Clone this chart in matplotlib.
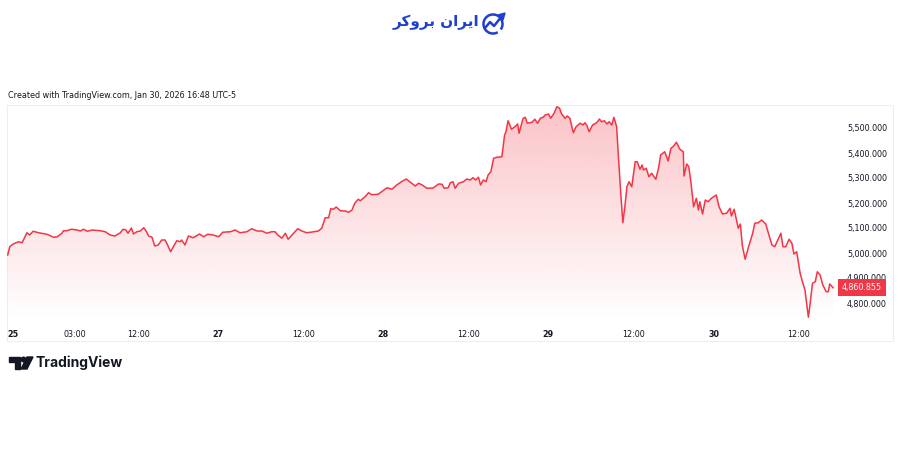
import matplotlib
matplotlib.use("Agg")
import matplotlib.pyplot as plt
import matplotlib.transforms as mtransforms
from matplotlib.patches import Rectangle, Arc, Polygon, Circle
import numpy as np

# price (time axis in compressed session hours)
t_hours = [-0.8, -0.5, 0.0, 0.8, 1.3, 2.0, 2.4, 2.9, 3.7, 4.9, 5.9, 6.4, 7.1, 7.3, 7.8, 8.5, 9.3, 9.8, 10.2, 10.8,
           11.5, 12.7, 13.4, 14.1, 14.8, 15.6, 16.0, 16.4, 16.7, 17.2, 17.5, 18.0, 18.5, 19.0, 19.4, 19.7, 20.2, 20.6, 21.1, 21.6,
           22.1, 22.4, 22.9, 23.3, 23.8, 24.3, 24.5, 25.0, 25.5, 26.2, 27.1, 27.7, 28.3, 29.1, 29.9, 30.5, 31.6, 32.3, 33.0, 34.0,
           34.7, 35.5, 36.2, 36.9, 37.6, 38.1, 38.5, 39.1, 39.6, 40.0, 40.8, 41.4, 42.0, 42.7, 43.5, 44.4, 44.9, 45.4, 45.9, 46.2,
           46.6, 47.0, 47.6, 48.3, 48.8, 49.3, 49.7, 50.2, 50.5, 51.2, 51.7, 52.2, 53.1, 54.4, 55.1, 55.8, 56.5, 57.2, 57.7, 58.5,
           59.0, 59.5, 60.2, 61.1, 61.9, 62.4, 62.7, 63.3,
           63.6, 64.0, 64.3, 64.8, 65.5, 66.0, 66.5, 66.9, 67.3, 67.7, 68.0, 68.4, 68.8, 69.1, 69.5, 69.9, 70.4, 71.1, 71.5, 71.7,
           72.0, 72.5, 73.0, 73.4, 73.6, 74.2, 74.5, 74.8, 75.5, 75.9, 76.3, 76.7, 77.1, 77.4, 77.9, 78.2, 78.7, 79.1, 79.5, 79.8,
           80.3, 80.6, 81.0, 81.5, 81.9, 82.5, 82.9, 83.2, 83.5, 83.8, 84.3, 84.9, 85.3, 85.6, 86.0, 86.4, 86.7, 87.1, 87.4, 87.8,
           88.0, 88.4, 88.7, 89.0, 89.3, 89.6, 90.0, 90.5, 90.8, 91.2, 91.5, 91.7, 92.1, 92.5, 92.9, 93.5, 93.9, 94.2, 94.6, 94.8,
           95.3, 95.7, 96.0, 96.5, 97.0, 97.5, 97.6, 98.0, 98.3, 98.6, 99.0, 99.4, 99.7, 99.9, 100.3, 100.7, 101.1, 101.6, 102.3, 102.7,
           103.2, 103.8, 104.3, 104.5, 104.9, 105.5, 105.8, 106.1, 106.5, 107.0, 107.6, 107.9, 108.4, 108.9, 109.5, 110.0, 110.4, 110.8, 111.3, 111.7,
           112.0, 112.4, 112.9, 113.3, 113.6, 114.0, 114.5, 114.9, 115.2, 115.7, 115.9, 116.3, 116.7, 117.0, 117.4, 117.8, 118.3, 118.6, 118.8, 119.3]

price = [4992, 5025, 5036, 5045, 5041, 5081, 5072, 5087, 5081, 5075, 5063, 5065, 5079, 5089, 5089, 5095, 5092, 5088, 5095, 5087,
         5092, 5089, 5085, 5072, 5068, 5081, 5095, 5092, 5079, 5100, 5076, 5085, 5088, 5101, 5085, 5068, 5063, 5028, 5032, 5052,
         5052, 5036, 5005, 5025, 5049, 5045, 5052, 5032, 5068, 5061, 5076, 5065, 5075, 5072, 5065, 5083, 5085, 5092, 5081, 5085,
         5097, 5088, 5088, 5079, 5085, 5085, 5072, 5059, 5079, 5055, 5079, 5097, 5088, 5081, 5084, 5088, 5099, 5141, 5141, 5177,
         5175, 5184, 5169, 5168, 5163, 5172, 5199, 5215, 5209, 5225, 5241, 5233, 5235, 5261, 5255, 5272, 5285, 5296, 5285, 5268,
         5279, 5272, 5259, 5260, 5276, 5275, 5259, 5261,
         5281, 5285, 5259, 5279, 5285, 5296, 5292, 5301, 5292, 5303, 5272, 5292, 5285, 5312, 5325, 5379, 5383, 5385, 5472, 5485,
         5529, 5495, 5505, 5516, 5479, 5539, 5543, 5519, 5523, 5535, 5519, 5539, 5543, 5552, 5556, 5539, 5559, 5585, 5579, 5556,
         5539, 5548, 5539, 5481, 5505, 5519, 5512, 5521, 5508, 5485, 5512, 5521, 5536, 5525, 5529, 5516, 5525, 5512, 5543, 5505,
         5412, 5239, 5121, 5185, 5265, 5285, 5265, 5365, 5365, 5335, 5352, 5332, 5339, 5305, 5319, 5295, 5339, 5392, 5401, 5405,
         5368, 5419, 5425, 5443, 5415, 5405, 5308, 5356, 5345, 5285, 5185, 5219, 5172, 5205, 5156, 5212, 5205, 5219, 5232, 5185,
         5156, 5159, 5179, 5148, 5175, 5099, 5116, 5028, 4975, 5025, 5079, 5119, 5121, 5132, 5116, 5068, 5032, 5025, 5055, 5079,
         5025, 5025, 5055, 5039, 4996, 5005, 4919, 4879, 4852, 4743, 4785, 4879, 4885, 4925, 4912, 4872, 4845, 4845, 4876, 4860.855]

xtick_pos = [0, 9.0, 18.3, 29.8, 42.2, 53.8, 66.3, 77.8, 90.3, 101.9, 114.3]
xtick_labels = ["25", "03:00", "12:00", "27", "12:00", "28", "12:00", "29", "12:00", "30", "12:00"]
day_labels = {"25", "27", "28", "29", "30"}
ytick_vals = [4800, 4900, 5000, 5100, 5200, 5300, 5400, 5500]

RED = "#F23645"
TXT = "#131722"
BLUE = "#1f3fcf"

plt.rcParams['font.family'] = ['DejaVu Sans']

W, H = 900, 471
fig = plt.figure(figsize=(W / 100, H / 100), dpi=100)
fig.patch.set_facecolor("white")

# overlay in pixel coordinates for decorations
deco = fig.add_axes([0, 0, 1, 1], zorder=0)
deco.set_xlim(0, W)
deco.set_ylim(H, 0)
deco.axis("off")

# chart frame
deco.add_patch(Rectangle((7, 105), 886, 236, fill=False, ec="#eceef2", lw=0.8))

ax = fig.add_axes([7 / W, (H - 320) / H, (840 - 7) / W, (320 - 105) / H], zorder=1)
ax.patch.set_alpha(0)
ymin, ymax = 4732, 5592
ax.set_xlim(-0.9, 120.3)
ax.set_ylim(ymin, ymax)

# gradient fill under the line
poly = ax.fill_between(t_hours, price, ymin, color="none", lw=0)
grad = np.linspace(0, 1, 256).reshape(-1, 1)
rgba = np.zeros((256, 1, 4))
rgba[..., 0] = 242 / 255
rgba[..., 1] = 54 / 255
rgba[..., 2] = 69 / 255
rgba[..., 3] = 0.30 * grad
img = ax.imshow(rgba, extent=[-0.9, 120.3, ymin, ymax], origin="lower", aspect="auto", zorder=1)
img.set_clip_path(poly.get_paths()[0], transform=ax.transData)

ax.plot(t_hours, price, color=RED, lw=1.1, zorder=2)

for s in ax.spines.values():
    s.set_visible(False)

ax.yaxis.tick_right()
ax.set_yticks(ytick_vals)
ax.set_yticklabels(["{:,.3f}".format(v) for v in ytick_vals])
ax.tick_params(axis="y", length=0, pad=5, labelsize=5.8, labelcolor=TXT)
ax.set_xticks(xtick_pos)
ax.set_xticklabels(xtick_labels)
ax.tick_params(axis="x", length=0, pad=7, labelsize=5.8, labelcolor=TXT)
for lab in ax.get_xticklabels():
    if lab.get_text() in day_labels:
        lab.set_fontweight("bold")

# last price tag
trans = mtransforms.blended_transform_factory(ax.transAxes, ax.transData)
ax.annotate("{:,.3f}".format(price[-1]), xy=(1.0, price[-1]), xycoords=trans,
            xytext=(1.5, 0), textcoords="offset points", va="center", ha="left",
            fontsize=5.8, color="white", annotation_clip=False,
            bbox=dict(boxstyle="square,pad=0.5", fc=RED, ec="none"))

# header / footer text
fig.text(8 / W, 1 - 96 / H, "Created with TradingView.com, Jan 30, 2026 16:48 UTC-5",
         fontsize=5.75, color=TXT, va="center", ha="left")

# IranBroker logo (presentation forms, visual order)
logo = "\uFEAE\uFB90\uFEED\uFEAE\uFE91 \uFEE5\uFE8D\uFEAE\uFEF3\uFE8D"
deco.text(436, 22, logo, fontsize=11, fontweight="bold", color=BLUE, ha="center", va="center")
deco.add_patch(Arc((493, 24), 19, 19, theta1=60, theta2=395, color=BLUE, lw=1.8))
deco.plot([485, 490, 494, 502], [28, 22, 26, 16], color=BLUE, lw=1.8, solid_capstyle="round")
deco.add_patch(Polygon([[505, 13], [498, 15], [503, 20]], closed=True, color=BLUE))

# TradingView logo
deco.add_patch(Polygon([[9, 357], [20, 357], [20, 369], [15, 369], [15, 362], [9, 362]], closed=True, color=TXT))
deco.add_patch(Circle((23.5, 359.5), 2.3, color=TXT))
deco.add_patch(Polygon([[27, 357], [33, 357], [27, 369], [21, 369]], closed=True, color=TXT))
deco.text(36, 363, "TradingView", fontsize=10, fontweight="bold", color=TXT, ha="left", va="center",
          family=["Inter", "DejaVu Sans"])

fig.savefig("out.png", dpi=100)
